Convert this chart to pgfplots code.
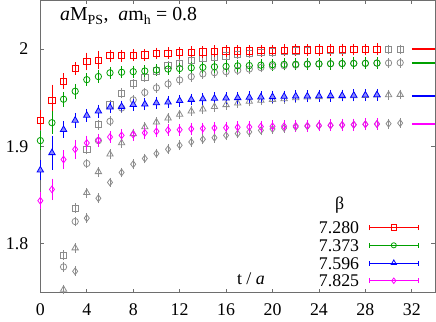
\documentclass[border=0pt]{standalone}
\usepackage{fontspec}
\setmainfont{Liberation Serif}
\usepackage{pgfplots}
\pgfplotsset{compat=1.18}
\usepackage{pgfplotstable}

\definecolor{betaA}{RGB}{255,0,0}
\definecolor{betaB}{RGB}{0,160,0}
\definecolor{betaC}{RGB}{0,0,255}
\definecolor{betaD}{RGB}{255,0,255}
\definecolor{greyp}{RGB}{140,140,140}
\definecolor{axisc}{RGB}{110,110,110}

% beta = 7.280
\pgfplotstableread{
t y e
0 1.9270 0.0060
1 1.9470 0.0120
2 1.9670 0.0035
3 1.9800 0.0020
4 1.9873 0.0045
5 1.9887 0.0050
6 1.9932 0.0015
7 1.9932 0.0015
8 1.9937 0.0015
9 1.9939 0.0015
10 1.9955 0.0015
11 1.9958 0.0015
12 1.9964 0.0015
13 1.9966 0.0015
14 1.9970 0.0015
15 1.9976 0.0015
16 1.9980 0.0015
17 1.9982 0.0015
18 1.9983 0.0015
19 1.9984 0.0015
20 1.9986 0.0015
21 1.9989 0.0015
22 1.9990 0.0015
23 1.9991 0.0015
24 1.9992 0.0015
25 1.9994 0.0015
26 1.9995 0.0015
27 1.9996 0.0015
28 1.9996 0.0015
29 1.9997 0.0015
}\datared
% beta = 7.373
\pgfplotstableread{
t y e
0 1.9060 0.0055
1 1.9244 0.0070
2 1.9485 0.0030
3 1.9567 0.0030
4 1.9686 0.0020
5 1.9718 0.0020
6 1.9756 0.0015
7 1.9762 0.0015
8 1.9768 0.0015
9 1.9775 0.0015
10 1.9785 0.0015
11 1.9795 0.0015
12 1.9800 0.0015
13 1.9808 0.0015
14 1.9812 0.0015
15 1.9818 0.0015
16 1.9822 0.0015
17 1.9828 0.0015
18 1.9831 0.0015
19 1.9835 0.0015
20 1.9840 0.0015
21 1.9843 0.0015
22 1.9844 0.0015
23 1.9846 0.0015
24 1.9849 0.0015
25 1.9850 0.0015
26 1.9852 0.0015
27 1.9853 0.0015
28 1.9854 0.0015
29 1.9856 0.0015
}\datagreen
% beta = 7.596
\pgfplotstableread{
t y e
0 1.8757 0.0060
1 1.8935 0.0130
2 1.9173 0.0040
3 1.9268 0.0030
4 1.9319 0.0020
5 1.9363 0.0020
6 1.9403 0.0015
7 1.9410 0.0015
8 1.9430 0.0015
9 1.9434 0.0015
10 1.9447 0.0015
11 1.9455 0.0015
12 1.9470 0.0015
13 1.9482 0.0015
14 1.9488 0.0015
15 1.9494 0.0015
16 1.9497 0.0015
17 1.9500 0.0015
18 1.9504 0.0015
19 1.9507 0.0015
20 1.9510 0.0015
21 1.9513 0.0015
22 1.9517 0.0015
23 1.9517 0.0015
24 1.9520 0.0015
25 1.9521 0.0015
26 1.9523 0.0015
27 1.9524 0.0015
28 1.9527 0.0015
29 1.9530 0.0015
}\datablue
% beta = 7.825
\pgfplotstableread{
t y e
0 1.8443 0.0040
1 1.8559 0.0065
2 1.8866 0.0050
3 1.8971 0.0050
4 1.9036 0.0030
5 1.9063 0.0020
6 1.9097 0.0015
7 1.9114 0.0015
8 1.9122 0.0015
9 1.9140 0.0015
10 1.9155 0.0015
11 1.9168 0.0015
12 1.9172 0.0015
13 1.9180 0.0015
14 1.9185 0.0015
15 1.9190 0.0015
16 1.9193 0.0015
17 1.9197 0.0015
18 1.9200 0.0015
19 1.9204 0.0015
20 1.9207 0.0015
21 1.9208 0.0015
22 1.9211 0.0015
23 1.9214 0.0015
24 1.9215 0.0015
25 1.9218 0.0015
26 1.9221 0.0015
27 1.9224 0.0015
28 1.9228 0.0015
29 1.9231 0.0015
}\datamag
% grey companions
\pgfplotstableread{
t y
2 1.7882
3 1.8366
4 1.8971
5 1.9224
6 1.9428
7 1.9547
8 1.9645
9 1.9710
10 1.9775
11 1.9830
12 1.9853
13 1.9887
14 1.9904
15 1.9914
16 1.9930
17 1.9945
18 1.9956
19 1.9964
20 1.9972
21 1.9980
22 1.9983
23 1.9986
24 1.9990
25 1.9992
26 1.9993
27 1.9994
28 1.9996
29 1.9996
30 1.9996
31 1.9997
}\grayred
\pgfplotstableread{
t y
2 1.7763
3 1.8229
4 1.8825
5 1.9060
6 1.9258
7 1.9395
8 1.9479
9 1.9554
10 1.9602
11 1.9642
12 1.9683
13 1.9717
14 1.9745
15 1.9758
16 1.9768
17 1.9782
18 1.9795
19 1.9810
20 1.9822
21 1.9830
22 1.9836
23 1.9843
24 1.9846
25 1.9849
26 1.9850
27 1.9853
28 1.9853
29 1.9856
30 1.9857
31 1.9860
}\graygreen
\pgfplotstableread{
t y
2 1.7531
3 1.7957
4 1.8525
5 1.8740
6 1.8920
7 1.9036
8 1.9130
9 1.9200
10 1.9250
11 1.9291
12 1.9329
13 1.9363
14 1.9383
15 1.9408
16 1.9428
17 1.9444
18 1.9462
19 1.9472
20 1.9482
21 1.9489
22 1.9499
23 1.9506
24 1.9510
25 1.9513
26 1.9516
27 1.9520
28 1.9523
29 1.9526
30 1.9530
31 1.9533
}\grayblue
\pgfplotstableread{
t y
3 1.7718
4 1.8264
5 1.8468
6 1.8631
7 1.8733
8 1.8818
9 1.8876
10 1.8927
11 1.8971
12 1.9012
13 1.9046
14 1.9074
15 1.9090
16 1.9114
17 1.9132
18 1.9149
19 1.9165
20 1.9179
21 1.9189
22 1.9199
23 1.9206
24 1.9213
25 1.9216
26 1.9220
27 1.9223
28 1.9227
29 1.9230
30 1.9234
31 1.9240
}\graymag

% continuum values
\pgfplotstableread{
t a b c d
32 1.9997 1.9853 1.9523 1.9226
34 1.9997 1.9853 1.9523 1.9226
}\contin

\pgfplotsset{
  pt/.style={only marks, color=#1, line width=0.8pt, mark size=3.2bp,
    mark options={solid, draw=#1},
    error bars/y dir=both, error bars/y explicit,
    error bars/error bar style={line width=0.8pt, draw=#1},
    error bars/error mark options={mark size=4.5bp, line width=0.8pt, draw=#1}},
  gpt/.style={only marks, color=greyp, line width=0.8pt, mark size=3.2bp,
    forget plot, mark options={draw=greyp},
    error bars/y dir=both, error bars/y fixed=0.0004,
    error bars/error bar style={line width=0.8pt, draw=greyp},
    error bars/error mark options={mark size=4.5bp, line width=0.8pt, draw=greyp}},
  cline/.style={draw=#1, line width=2pt, forget plot, mark=none, solid},
  lg/.style={color=#1, draw=#1, line width=0.8pt, mark options={draw=#1, line width=0.8pt}},
}

\begin{document}
\fontsize{18}{20}\selectfont
\begin{tikzpicture}
\begin{axis}[
  scale only axis,
  width=396.8bp, height=293.7bp,
  xmin=0, xmax=34, ymin=1.75, ymax=2.05,
  clip=false,
  xtick={0,4,...,32}, ytick={1.8,1.9,2},
  tick align=inside,
  major tick length=4bp,
  axis line style={axisc, line width=0.8pt},
  tick style={axisc, line width=0.8pt},
  ticklabel style={font=\fontsize{18}{20}\selectfont, black},
  /pgf/number format/assume math mode=true,
  xticklabel style={yshift=-5bp},
  yticklabel style={xshift=-6bp},
  legend plot pos=right,
  legend cell align=right,
  legend image code/.code={
    \draw[#1, mark=none] (0bp,0bp) -- (49bp,0bp);
    \draw[#1, mark=none] (0bp,-2.5bp) -- (0bp,2.5bp);
    \draw[#1, mark=none] (49bp,-2.5bp) -- (49bp,2.5bp);
    \draw[#1, only marks] plot coordinates {(24.5bp,0bp)};
  },
  legend style={at={(axis cs:32.6,1.7545)}, anchor=south east,
    draw=none, fill=none, inner sep=0pt,
    font=\fontsize{18}{18}\selectfont,
    row sep=3.3bp, column sep=9bp,
    nodes={inner sep=1bp, text height=12.5bp, text depth=0bp}},
]
% continuum values (drawn first)
\addplot[cline=betaA] table[x=t,y=a] {\contin};
\addplot[cline=betaB] table[x=t,y=b] {\contin};
\addplot[cline=betaC] table[x=t,y=c] {\contin};
\addplot[cline=betaD] table[x=t,y=d] {\contin};
% grey series
\addplot[gpt, mark=square] table[x=t,y=y] {\grayred};
\addplot[gpt, mark=o] table[x=t,y=y] {\graygreen};
\addplot[gpt, mark=triangle, mark size=3.7bp] table[x=t,y=y] {\grayblue};
\addplot[gpt, mark=diamond, mark size=3.4bp] table[x=t,y=y] {\graymag};
% coloured series
\addplot[pt=betaA, mark=square, forget plot] table[x=t,y=y,y error=e] {\datared};
\addplot[pt=betaB, mark=o, forget plot] table[x=t,y=y,y error=e] {\datagreen};
\addplot[pt=betaC, mark=triangle*, mark size=3.7bp, mark options={fill=betaC!45}, forget plot] table[x=t,y=y,y error=e] {\datablue};
\addplot[pt=betaD, mark=diamond, mark size=3.4bp, forget plot] table[x=t,y=y,y error=e] {\datamag};
% legend
\addlegendimage{lg=betaA, mark=square, mark size=2.8bp}
\addlegendentry{7.280}
\addlegendimage{lg=betaB, mark=o, mark size=2.6bp}
\addlegendentry{7.373}
\addlegendimage{lg=betaC, mark=triangle, mark size=3.1bp}
\addlegendentry{7.596}
\addlegendimage{lg=betaD, mark=diamond, mark size=2.8bp}
\addlegendentry{7.825}
% texts
\node[anchor=base west, inner sep=0pt, font=\fontsize{20}{22}\selectfont] at (axis cs:1.69,2.0289)
  {\textit{a}M\textsubscript{PS},\ \ \textit{a}m\textsubscript{h} = 0.8};
\node[anchor=base, inner sep=0pt] at (axis cs:25.78,1.8353) {β};
\node[anchor=base west, inner sep=0pt] at (axis cs:16.93,1.7582) {t / \textit{a}};
\end{axis}
\end{tikzpicture}
\end{document}
